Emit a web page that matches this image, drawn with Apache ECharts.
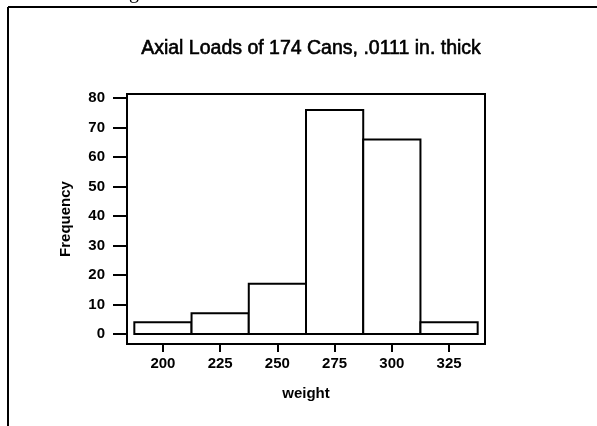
<!DOCTYPE html>
<html>
<head>
<meta charset="utf-8">
<script src="https://cdn.jsdelivr.net/npm/echarts@6/dist/echarts.min.js"></script>
<style>
html,body{margin:0;padding:0;background:#fff;}
#chart{width:597px;height:426px;}
</style>
</head>
<body>
<div id="chart"></div>
<script>
// Data
var binCenters = [200, 225, 250, 275, 300, 325];
var binWidth = 25;
var counts = [4, 7, 17, 76, 66, 4];
var xTicks = [200, 225, 250, 275, 300, 325];
var yTicks = [0, 10, 20, 30, 40, 50, 60, 70, 80];
var titleText = 'Axial Loads of 174 Cans, .0111 in. thick';

var FONT = '"Liberation Sans", Arial, sans-serif';
var chart = echarts.init(document.getElementById('chart'), null, {renderer: 'canvas'});

var barData = binCenters.map(function (c, i) {
  return [c - binWidth / 2, c + binWidth / 2, counts[i]];
});

var option = {
  animation: false,
  backgroundColor: '#fff',
  title: {
    text: titleText,
    left: 306,
    top: 34,
    textAlign: 'center',
    textStyle: {fontFamily: FONT, fontSize: 19.5, fontWeight: 'normal', color: '#000',
      textBorderColor: '#000', textBorderWidth: 0.6}
  },
  grid: {
    left: 127, top: 94, width: 358, height: 250,
    show: true, borderColor: '#000', borderWidth: 2, backgroundColor: 'transparent'
  },
  xAxis: {
    type: 'value',
    min: 184.3, max: 340.7,
    name: 'weight',
    nameLocation: 'middle',
    nameGap: 42,
    nameTextStyle: {fontFamily: FONT, fontSize: 15, fontWeight: 'bold', color: '#000'},
    axisLine: {show: true, onZero: false, lineStyle: {color: '#000', width: 2}},
    axisTick: {show: true, length: 8, lineStyle: {color: '#000', width: 2}, customValues: xTicks},
    axisLabel: {fontFamily: FONT, fontSize: 15, fontWeight: 'bold', color: '#000', margin: 12, customValues: xTicks},
    splitLine: {show: false}
  },
  yAxis: {
    type: 'value',
    min: -3.4, max: 81.4,
    name: 'Frequency',
    nameLocation: 'middle',
    nameGap: 54,
    nameRotate: 90,
    nameTextStyle: {fontFamily: FONT, fontSize: 15, fontWeight: 'bold', color: '#000'},
    axisLine: {show: true, onZero: false, lineStyle: {color: '#000', width: 2}},
    axisTick: {show: true, length: 14, lineStyle: {color: '#000', width: 2}, customValues: yTicks},
    axisLabel: {fontFamily: FONT, fontSize: 15, fontWeight: 'bold', color: '#000', margin: 22, customValues: yTicks},
    splitLine: {show: false}
  },
  series: [{
    type: 'custom',
    data: barData,
    encode: {x: [0, 1], y: 2},
    renderItem: function (params, api) {
      var p0 = api.coord([api.value(0), 0]);
      var p1 = api.coord([api.value(1), api.value(2)]);
      return {
        type: 'rect',
        shape: {x: p0[0], y: p1[1], width: p1[0] - p0[0], height: p0[1] - p1[1]},
        style: {fill: '#fff', stroke: '#000', lineWidth: 2}
      };
    }
  }],
  graphic: [
    {type: 'line', shape: {x1: 8, y1: 7, x2: 597, y2: 7}, style: {stroke: '#000', lineWidth: 2}},
    {type: 'line', shape: {x1: 8, y1: 7, x2: 8, y2: 426}, style: {stroke: '#000', lineWidth: 2}},
    {type: 'text', left: 129, top: -17, style: {text: 'g', fontFamily: '"Liberation Serif", serif', fontSize: 20, fill: '#000'}}
  ]
};
chart.setOption(option);
</script>
</body>
</html>
